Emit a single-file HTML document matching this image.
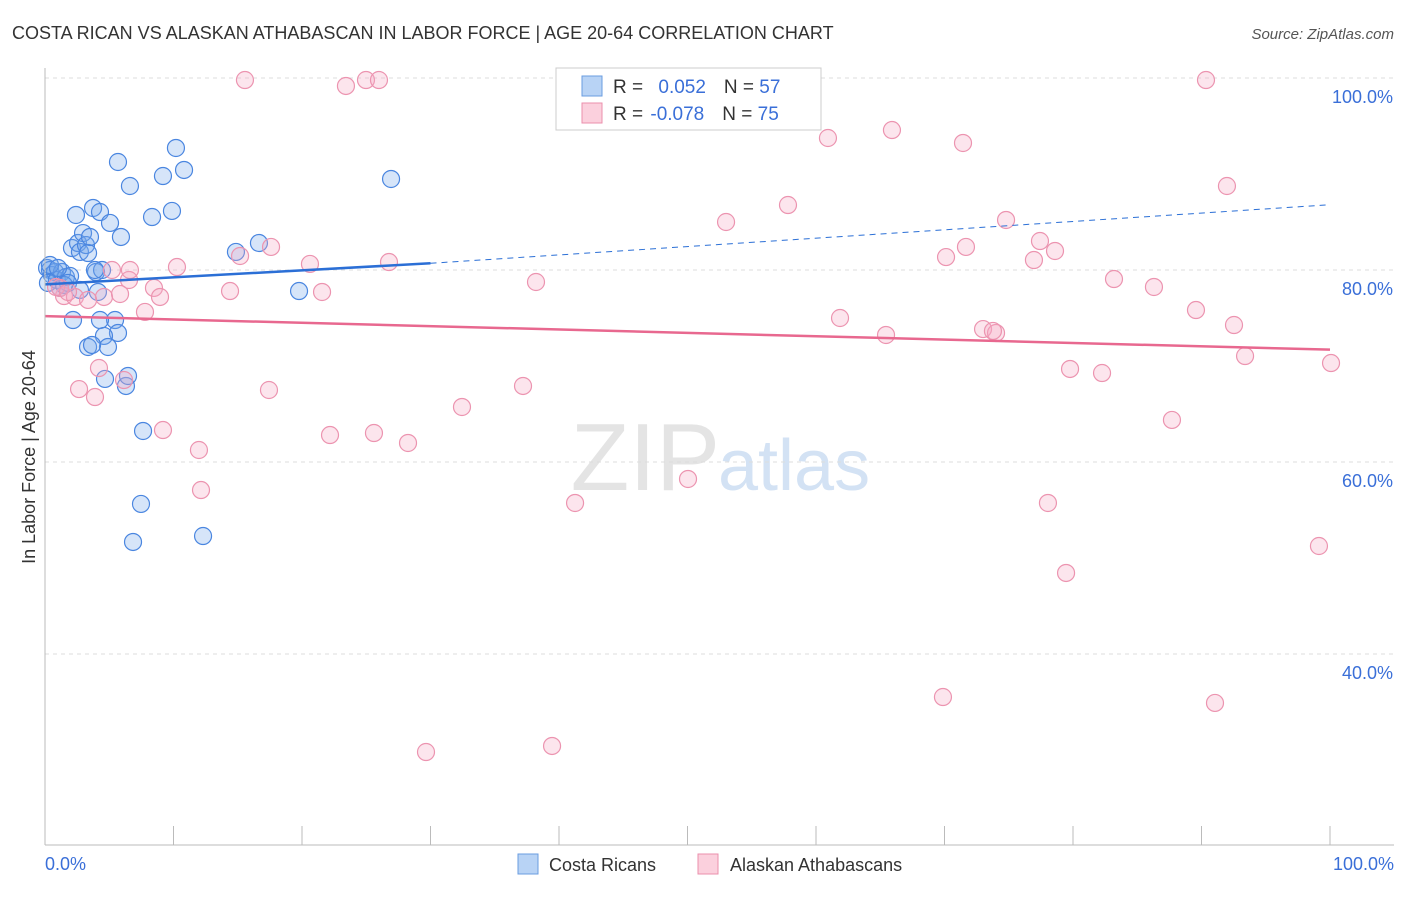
<!DOCTYPE html>
<html><head><meta charset="utf-8"><style>
body{margin:0;background:#fff;font-family:"Liberation Sans",sans-serif;}
svg text{font-family:"Liberation Sans",sans-serif;}
</style></head><body>
<svg id="chart" width="1406" height="892">
<text x="12" y="39" font-size="18" fill="#333">COSTA RICAN VS ALASKAN ATHABASCAN IN LABOR FORCE | AGE 20-64 CORRELATION CHART</text>
<text x="1394" y="39" font-size="15" fill="#555" font-style="italic" text-anchor="end">Source: ZipAtlas.com</text>
<text x="35" y="457" font-size="18" fill="#333" text-anchor="middle" transform="rotate(-90 35 457)">In Labor Force | Age 20-64</text>
<text x="720" y="490" font-size="96" fill="#e4e4e4" text-anchor="end" font-family="Liberation Serif">ZIP</text>
<text x="718" y="490" font-size="72" fill="#d3e2f4">atlas</text>
<g id="grid"></g><g id="pts"></g><g id="trend"></g>
<line x1="45" y1="68" x2="45" y2="845" stroke="#bbb"/>
<line x1="45" y1="845" x2="1394" y2="845" stroke="#bbb"/>
<text x="45" y="870" font-size="18" fill="#3a6fd8">0.0%</text>
<text x="1394" y="870" font-size="18" fill="#3a6fd8" text-anchor="end">100.0%</text>
<g>
<rect x="556" y="68" width="265" height="62" fill="#fff" stroke="#ccc"/>
<rect x="582" y="76" width="20" height="20" fill="#b8d3f5" stroke="#6a9de0"/>
<rect x="582" y="103" width="20" height="20" fill="#fbd0dd" stroke="#eb8fac"/>
<text x="613" y="93" font-size="19" fill="#333">R = <tspan fill="#3a6fd8" dx="10">0.052</tspan><tspan dx="18" fill="#333">N = </tspan><tspan fill="#3a6fd8">57</tspan></text>
<text x="613" y="120" font-size="19" fill="#333">R = <tspan fill="#3a6fd8" dx="2">-0.078</tspan><tspan dx="18" fill="#333">N = </tspan><tspan fill="#3a6fd8">75</tspan></text>
</g>
<g>
<rect x="518" y="854" width="20" height="20" fill="#b8d3f5" stroke="#6a9de0"/>
<text x="549" y="871" font-size="18" fill="#333">Costa Ricans</text>
<rect x="698" y="854" width="20" height="20" fill="#fbd0dd" stroke="#eb8fac"/>
<text x="730" y="871" font-size="18" fill="#333">Alaskan Athabascans</text>
</g>
</svg>
<script>
const yTicks=[40,60,80,100];
const xTicks=[0,10,20,30,40,50,60,70,80,90,100];
const bluePx=[[47,268],[50,270],[52,275],[55,272],[48,283],[57,280],[60,288],[62,272],[66,277],[70,276],[64,285],[68,283],[73,320],[72,248],[76,215],[78,243],[80,252],[83,233],[86,245],[88,253],[90,237],[93,208],[96,272],[98,292],[100,212],[102,270],[110,223],[115,320],[118,333],[100,320],[104,336],[108,347],[88,347],[92,345],[105,379],[121,237],[126,386],[128,376],[130,186],[118,162],[143,431],[141,504],[133,542],[152,217],[163,176],[172,211],[176,148],[184,170],[203,536],[236,252],[259,243],[299,291],[391,179],[50,265],[58,268],[80,290],[95,270]];
const pinkPx=[[245,80],[346,86],[366,80],[379,80],[1206,80],[828,138],[892,130],[963,143],[1227,186],[726,222],[788,205],[1006,220],[1040,241],[1055,251],[966,247],[946,257],[1034,260],[271,247],[240,256],[310,264],[389,262],[177,267],[112,270],[129,280],[154,288],[160,297],[230,291],[322,292],[536,282],[1114,279],[1154,287],[1196,310],[1234,325],[840,318],[886,335],[983,329],[996,333],[993,331],[1245,356],[1331,363],[1070,369],[1102,373],[79,389],[95,397],[99,368],[124,380],[269,390],[523,386],[462,407],[163,430],[199,450],[330,435],[374,433],[408,443],[201,490],[575,503],[688,479],[1048,503],[1066,573],[1172,420],[1319,546],[943,697],[1215,703],[426,752],[552,746],[64,296],[75,297],[104,297],[120,294],[145,312],[60,288],[56,287],[68,292],[88,300],[130,270]];
// convert read pixel estimates to data values (percent)
const blueX=bluePx.map(p=>+((p[0]-45)/12.85).toFixed(2));
const blueY=bluePx.map(p=>+(100-(p[1]-78)/9.6).toFixed(2));
const pinkX=pinkPx.map(p=>+((p[0]-45)/12.85).toFixed(2));
const pinkY=pinkPx.map(p=>+(100-(p[1]-78)/9.6).toFixed(2));
const blueTrend=[78.5,80.7,86.8];
const pinkTrend=[75.2,71.7];
function sx(v){return 45+v*12.85;}
function sy(v){return 78+(100-v)*9.6;}
const NS='http://www.w3.org/2000/svg';
function mk(t,a,parent){const e=document.createElementNS(NS,t);for(const k in a)e.setAttribute(k,a[k]);document.getElementById(parent).appendChild(e);return e;}
yTicks.forEach(v=>{
 const l=mk('line',{x1:45,x2:1394,y1:sy(v),y2:sy(v),stroke:'#ddd','stroke-dasharray':'4 4'},'grid');
 
 
 const t=mk('text',{x:1393,y:sy(v)+25,'font-size':18,fill:'#3a6fd8','text-anchor':'end'},'grid');
 t.textContent=v.toFixed(1)+'%';
 
 
});
xTicks.forEach(v=>{
 const l=mk('line',{x1:sx(v),x2:sx(v),y1:826,y2:845,stroke:'#bbb'},'grid');
 
 
});
blueX.forEach((x,i)=>{
 const c=mk('circle',{cx:sx(x),cy:sy(blueY[i]),r:8.5,fill:'rgba(120,170,235,0.3)',stroke:'#4a86e0','stroke-width':1.2},'pts');
 
 
});
pinkX.forEach((x,i)=>{
 const c=mk('circle',{cx:sx(x),cy:sy(pinkY[i]),r:8.5,fill:'rgba(245,170,195,0.3)',stroke:'#ec94b0','stroke-width':1.2},'pts');
 
 
});
let l1=mk('line',{x1:sx(0),y1:sy(blueTrend[0]),x2:sx(30),y2:sy(blueTrend[1]),stroke:'#2b6fd6','stroke-width':2.5},'trend');


let l2=mk('line',{x1:sx(30),y1:sy(blueTrend[1]),x2:sx(100),y2:sy(blueTrend[2]),stroke:'#2b6fd6','stroke-width':1,'stroke-dasharray':'6 5'},'trend');


let l3=mk('line',{x1:sx(0),y1:sy(pinkTrend[0]),x2:sx(100),y2:sy(pinkTrend[1]),stroke:'#e8688f','stroke-width':2.5},'trend');


</script>
</body></html>
